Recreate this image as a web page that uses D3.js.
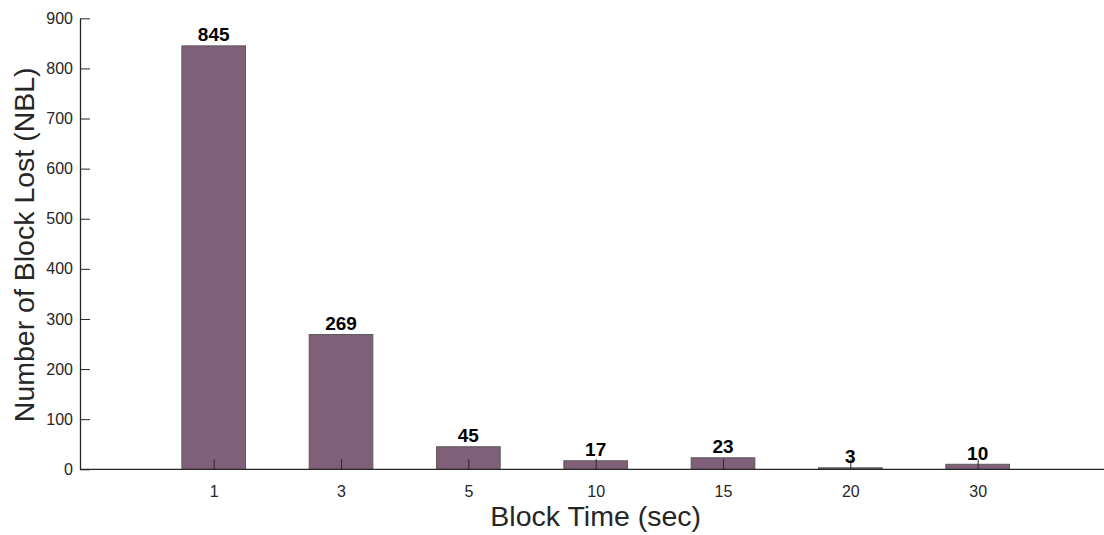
<!DOCTYPE html>
<html>
<head>
<meta charset="utf-8">
<script src="https://cdn.jsdelivr.net/npm/d3@7"></script>
<style>
  html, body { margin: 0; padding: 0; background: #fff; }
  svg { display: block; font-family: "Liberation Sans", Arial, Helvetica, sans-serif; }
</style>
</head>
<body>
<svg id="chart" width="1104" height="535"></svg>
<script>
const categories = ["1", "3", "5", "10", "15", "20", "30"];
const values = [845, 269, 45, 17, 23, 3, 10];
const yTicks = [0, 100, 200, 300, 400, 500, 600, 700, 800, 900];
const xTitle = "Block Time (sec)";
const yTitle = "Number of Block Lost (NBL)";

const svg = d3.select("#chart");
const W = 1104, H = 535;
const mLeft = 80, mRight = 1105, mTop = 18.3, mBottom = 469.3;

const x = d3.scaleLinear().domain([-0.05, 8.0]).range([mLeft, mRight]);
const y = d3.scaleLinear().domain([0, 900]).range([mBottom, mTop]);
const barW = x(0.5) - x(0);

const axisColor = "#262626";
const barFill = "#806078";
const barStroke = "#5a5a5a";

// bars
svg.append("g").selectAll("rect").data(values).join("rect")
  .attr("x", (d, i) => x(i + 1) - barW / 2)
  .attr("y", d => y(d))
  .attr("width", barW)
  .attr("height", d => y(0) - y(d))
  .attr("fill", barFill)
  .attr("stroke", barStroke)
  .attr("stroke-width", 1);

// value labels
svg.append("g").selectAll("text").data(values).join("text")
  .attr("x", (d, i) => x(i + 1))
  .attr("y", d => y(d) - 4.5)
  .attr("text-anchor", "middle")
  .attr("font-size", 19)
  .attr("font-weight", "bold")
  .attr("fill", "#000")
  .text(d => d);

// x axis
const xAxis = d3.axisBottom(x)
  .tickValues(categories.map((c, i) => i + 1))
  .tickFormat((d, i) => categories[i])
  .tickSizeInner(-10).tickSizeOuter(0).tickPadding(16);
const gx = svg.append("g").attr("transform", `translate(0,${mBottom})`).call(xAxis);
gx.select(".domain").attr("stroke", axisColor).attr("stroke-width", 1.3)
  .attr("d", `M${mLeft},0H${W}`);
gx.selectAll(".tick line").attr("stroke", axisColor).attr("stroke-width", 1);
gx.selectAll(".tick text").attr("fill", axisColor).attr("font-size", 16)
  .attr("font-family", "Liberation Sans, Arial, sans-serif");

// y axis
const yAxis = d3.axisLeft(y).tickValues(yTicks)
  .tickSizeInner(-10).tickSizeOuter(0).tickPadding(7);
const gy = svg.append("g").attr("transform", `translate(${mLeft},0)`).call(yAxis);
gy.select(".domain").attr("stroke", axisColor).attr("stroke-width", 1.3);
gy.selectAll(".tick line").attr("stroke", axisColor).attr("stroke-width", 1);
gy.selectAll(".tick text").attr("fill", axisColor).attr("font-size", 16)
  .attr("font-family", "Liberation Sans, Arial, sans-serif");

// titles
svg.append("text")
  .attr("x", (x(1) + x(7)) / 2)
  .attr("y", 526)
  .attr("text-anchor", "middle")
  .attr("font-size", 28.5)
  .attr("fill", axisColor)
  .text(xTitle);

svg.append("text")
  .attr("transform", `translate(34,${(mTop + mBottom) / 2 + 1}) rotate(-90)`)
  .attr("text-anchor", "middle")
  .attr("font-size", 28.5)
  .attr("fill", axisColor)
  .text(yTitle);
</script>
</body>
</html>
